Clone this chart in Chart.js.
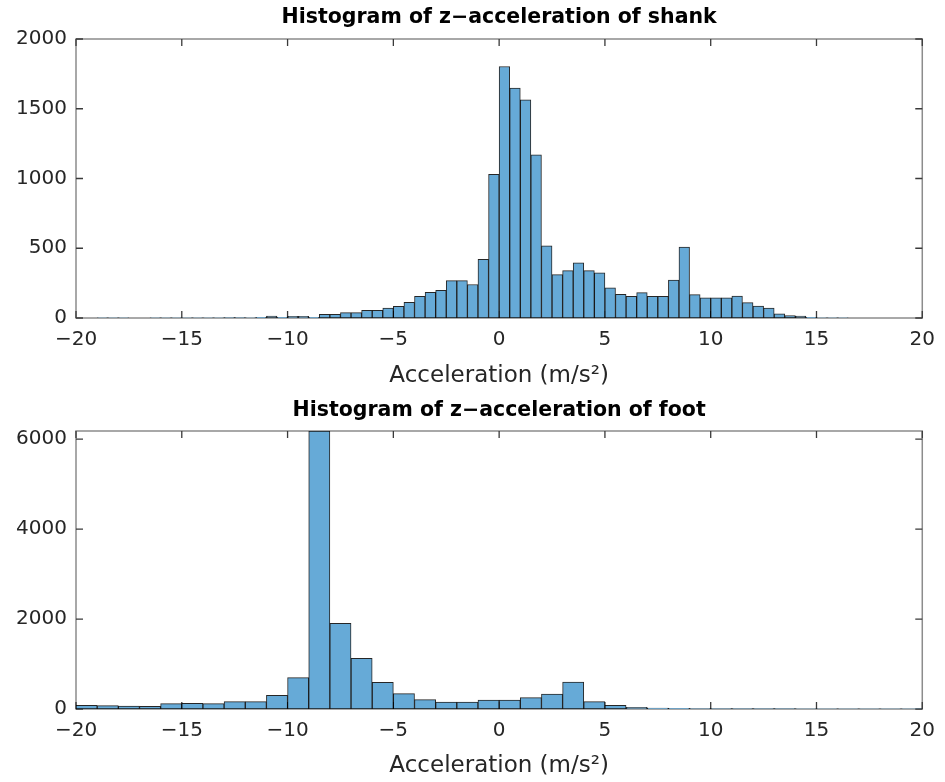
<!DOCTYPE html>
<html>
<head>
<meta charset="utf-8">
<title>z-acceleration histograms</title>
<script src="https://cdn.jsdelivr.net/npm/chart.js@4.4.1/dist/chart.umd.min.js"></script>
<style>
  html, body { margin: 0; padding: 0; background: #fff; }
  .panel { position: absolute; left: 0; width: 945px; }
  #shankBox { top: 0; height: 390px; }
  #footBox { top: 390px; height: 392px; }
</style>
</head>
<body>
<div class="panel" id="shankBox"><canvas id="shankChart" width="945" height="390"></canvas></div>
<div class="panel" id="footBox"><canvas id="footChart" width="945" height="392"></canvas></div>
<script>
// * shank: 80 bins of 0.5 m/s^2 from -20 to 20
const shankBinStart = -20;
const shankBinWidth = 0.5;
const shankCounts = [
  0, 0, 1, 2, 1, 0, 0, 1, 1, 2,
  1, 1, 2, 2, 3, 3, 2, 5, 14, 5,
  12, 12, 5, 26, 26, 38, 38, 55, 55, 72,
  84, 113, 156, 184, 199, 268, 268, 240, 421, 1030,
  1803, 1648, 1564, 1169, 517, 311, 340, 395, 340, 323,
  216, 170, 156, 182, 156, 156, 271, 508, 168, 144,
  144, 144, 158, 110, 86, 72, 29, 17, 14, 5,
  2, 2, 1, 0, 0, 0, 0, 0, 0, 0,
];

// * foot: 40 bins of 1 m/s^2 from -20 to 20
const footBinStart = -20;
const footBinWidth = 1;
const footCounts = [
  81, 74, 67, 59, 118, 126, 118, 163, 163, 304,
  696, 6180, 1904, 1126, 593, 341, 207, 156, 156, 200,
  200, 252, 333, 600, 163, 81, 37, 20, 15, 12,
  10, 10, 8, 8, 6, 5, 5, 4, 4, 4,
];

const xRange = [-20, 20];
const xTicks = [-20, -15, -10, -5, 0, 5, 10, 15, 20];
const shankYRange = [0, 2000];
const shankYTicks = [0, 500, 1000, 1500, 2000];
const footYRange = [0, 6180];
const footYTicks = [0, 2000, 4000, 6000];

const barFill = "#66aad7";
const barEdge = "rgba(0,0,0,0.85)";
const textColor = "#262626";
const xLabel = "Acceleration (m/s²)";

// ? MATLAB style box with inward ticks on all four sides
const boxAxes = {
  id: "boxAxes",
  beforeDatasetsDraw(chart) {
    const { ctx, chartArea: a, scales } = chart;
    const tl = 7;
    ctx.save();
    ctx.strokeStyle = "#8c8c8c";
    ctx.lineWidth = 1.5;
    ctx.strokeRect(a.left, a.top, a.width, a.height);
    ctx.strokeStyle = "#3a3a3a";
    ctx.lineWidth = 1.3;
    ctx.beginPath();
    scales.x.ticks.forEach((t) => {
      const px = scales.x.getPixelForValue(t.value);
      ctx.moveTo(px, a.bottom);
      ctx.lineTo(px, a.bottom - tl);
      ctx.moveTo(px, a.top);
      ctx.lineTo(px, a.top + tl);
    });
    scales.y.ticks.forEach((t) => {
      const py = scales.y.getPixelForValue(t.value);
      ctx.moveTo(a.left, py);
      ctx.lineTo(a.left + tl, py);
      ctx.moveTo(a.right, py);
      ctx.lineTo(a.right - tl, py);
    });
    ctx.stroke();
    ctx.restore();
  },
  // title centred over the plot box, not the whole canvas
  afterDraw(chart, args, opts) {
    const { ctx, chartArea: a } = chart;
    ctx.save();
    ctx.fillStyle = "#000";
    ctx.font = "bold 20.5px 'DejaVu Sans'";
    ctx.textAlign = "center";
    ctx.textBaseline = "middle";
    ctx.fillText(opts.text, (a.left + a.right) / 2, opts.y);
    ctx.restore();
  },
};

const toBins = (start, width, counts) =>
  counts.map((c, i) => ({ x: start + (i + 0.5) * width, y: c }));

const minus = (v) => String(v).replace("-", "\u2212");
const fixedTicks = (list) => (scale) => {
  scale.ticks = list.map((v) => ({ value: v }));
};

function makeHistogram(canvasId, title, bins, yRange, yTicks, topPad, titleY, xAxisHeight, labelPad) {
  const ctx = document.getElementById(canvasId).getContext("2d");
  return new Chart(ctx, {
    type: "bar",
    data: {
      datasets: [
        {
          data: bins,
          backgroundColor: barFill,
          borderColor: barEdge,
          borderWidth: 1,
          borderSkipped: false,
          barPercentage: 1,
          categoryPercentage: 1,
        },
      ],
    },
    options: {
      responsive: false,
      animation: false,
      layout: { padding: { left: 0, right: 20, top: topPad, bottom: 0 } },
      plugins: {
        legend: { display: false },
        tooltip: { enabled: false },
        boxAxes: { text: title, y: titleY },
      },
      scales: {
        x: {
          type: "linear",
          min: xRange[0],
          max: xRange[1],
          offset: false,
          grid: { display: false, drawTicks: false, offset: false },
          border: { display: false },
          afterBuildTicks: fixedTicks(xTicks),
          ticks: {
            maxRotation: 0,
            autoSkip: false,
            padding: 10,
            color: textColor,
            font: { family: "DejaVu Sans", size: 20 },
            callback: minus,
          },
          title: {
            display: true,
            text: xLabel,
            color: textColor,
            font: { family: "DejaVu Sans", size: 23 },
            padding: { top: 0, bottom: labelPad },
          },
          afterFit: (scale) => {
            scale.height = xAxisHeight;
          },
        },
        y: {
          min: yRange[0],
          max: yRange[1],
          grid: { display: false, drawTicks: false },
          border: { display: false },
          afterBuildTicks: fixedTicks(yTicks),
          ticks: {
            padding: 9,
            color: textColor,
            font: { family: "DejaVu Sans", size: 20 },
            callback: (v) => String(v),
          },
          afterFit: (scale) => {
            scale.width = 76;
          },
        },
      },
    },
    plugins: [boxAxes],
  });
}

const shankChart = makeHistogram(
  "shankChart",
  "Histogram of z\u2212acceleration of shank",
  toBins(shankBinStart, shankBinWidth, shankCounts),
  shankYRange,
  shankYTicks,
  39,
  18,
  72,
  0.5
);

const footChart = makeHistogram(
  "footChart",
  "Histogram of z\u2212acceleration of foot",
  toBins(footBinStart, footBinWidth, footCounts),
  footYRange,
  footYTicks,
  41,
  21,
  73,
  2.5
);
</script>
</body>
</html>
